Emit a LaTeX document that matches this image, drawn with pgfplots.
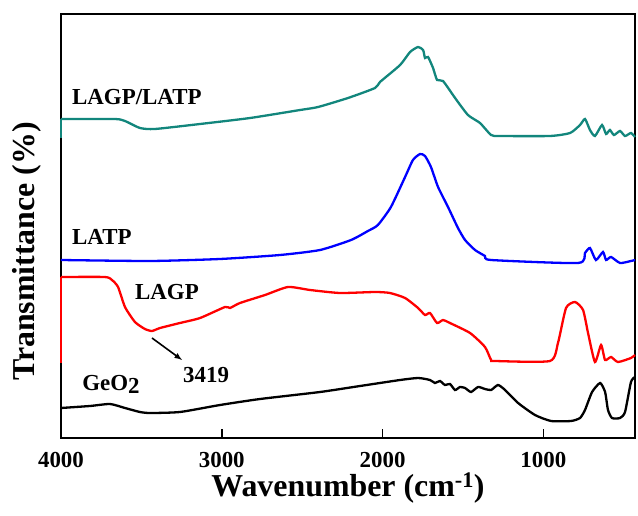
\documentclass[border=0pt]{standalone}
\usepackage{fontspec}
\setmainfont{Liberation Serif}
\usepackage{pgfplots}
\pgfplotsset{compat=1.18}

\definecolor{tealc}{RGB}{18,134,124}
\newcommand{\lblfont}{\fontsize{23}{26}\selectfont\bfseries}

\begin{document}
\begin{tikzpicture}
\begin{axis}[
    width=574bp, height=424bp,
    scale only axis,
    x dir=reverse,
    xmin=430, xmax=4000,
    ymin=0, ymax=424,
    xtick={1000,2000,3000,4000},
    ytick=\empty,
    xtick pos=left,
    tick align=inside,
    major tick length=9bp,
    every tick/.style={black, line width=1.6bp},
    axis line style={line width=1.8bp},
    /pgf/number format/1000 sep={},
    /pgf/number format/assume math mode=true,
    xticklabel style={font=\lblfont, anchor=base, yshift=-29bp},
    xlabel={Wavenumber (cm\textsuperscript{-1})},
    xlabel style={font=\fontsize{32}{36}\selectfont\bfseries, at={(axis description cs:0.50,-0.139)}, anchor=base},
    ylabel={Transmittance (\%)},
    ylabel style={font=\fontsize{32}{36}\selectfont\bfseries, at={(axis description cs:-0.047,0.44)}, anchor=base},
    clip=false,
    every axis plot/.append style={line width=2.3bp, smooth, tension=0.35},
]
% GeO2
\addplot[black] coordinates {
(4000,30) (3820,32) (3695,34) (3602,30) (3509,26) (3446,25) (3260,26) (3011,33)
(2762,39) (2389,46) (2140,52) (1891,58) (1779,60) (1705,58) (1674,55) (1643,57)
(1612,53) (1581,54) (1549,48) (1518,51) (1487,50) (1450,46) (1406,51) (1363,49)
(1325,48) (1282,53) (1238,48) (1157,35) (1052,23) (952,17) (828,17) (772,20)
(741,28) (697,46) (647,55) (616,46) (598,28) (573,20) (523,20) (492,26) (455,56) (430,61)
};
% LAGP
\addplot[red, sharp plot] coordinates {(4000,75) (4000,161)};
\addplot[red] coordinates {
(4000,161) (3727,161) (3683,158) (3645,151) (3602,131) (3540,116) (3478,109)
(3434,107) (3384,110) (3260,115) (3135,120) (2980,131) (2949,130) (2887,135)
(2731,143) (2588,151) (2451,148) (2265,145) (2047,146) (1954,145) (1860,140)
(1779,130) (1736,123) (1705,125) (1661,115) (1624,118) (1581,115) (1456,105)
(1363,91) (1325,78) (1301,77) (959,77) (909,95) (859,130) (803,136) (753,128)
(722,105) (679,76) (641,93) (616,78) (579,81) (536,76) (455,80) (430,83)
};
% LATP
\addplot[blue] coordinates {
(4000,178) (3446,177) (3011,179) (2638,183) (2389,188) (2196,198) (2091,207)
(2029,213) (1948,231) (1860,261) (1811,278) (1767,284) (1736,282) (1699,271)
(1655,251) (1593,231) (1531,210) (1487,198) (1425,188) (1363,182) (1325,178)
(784,175) (741,185) (710,190) (673,178) (629,186) (610,178) (579,181) (523,175)
(455,177) (430,178)
};
% LAGP/LATP
\addplot[tealc, sharp plot] coordinates {(4000,300) (4000,319)};
\addplot[tealc] coordinates {
(4000,319) (3665,319) (3602,317) (3509,310) (3416,309) (3135,314)
(2824,320) (2513,328) (2401,331) (2215,340) (2047,350) (2016,356) (1891,373)
(1829,386) (1779,391) (1748,388) (1736,380) (1717,381) (1686,370) (1661,358)
(1624,357) (1549,340) (1469,323) (1394,315) (1325,303) (1270,302) (959,302)
(834,305) (772,313) (741,319) (710,308) (679,302) (635,313) (610,304) (586,308)
(561,303) (523,307) (492,302) (455,305) (430,301)
};
\node[font=\lblfont, anchor=base west, inner sep=0] at (axis cs:3932,333) {LAGP/LATP};
\node[font=\lblfont, anchor=base west, inner sep=0] at (axis cs:3932,193) {LATP};
\node[font=\lblfont, anchor=base west, inner sep=0] at (axis cs:3540,138) {LAGP};
\node[font=\lblfont, anchor=base west, inner sep=0] at (axis cs:3869,48) {GeO\raisebox{-0.35ex}{2}};
\node[font=\lblfont, anchor=base west, inner sep=0] at (axis cs:3241,56) {3419};
\draw[-latex, line width=1.6bp] (axis cs:3434,100) -- (axis cs:3247,78);
\end{axis}
\path ([xshift=-61bp,yshift=-78bp]current axis.south west) rectangle ([xshift=3bp,yshift=14bp]current axis.north east);
\end{tikzpicture}
\end{document}
